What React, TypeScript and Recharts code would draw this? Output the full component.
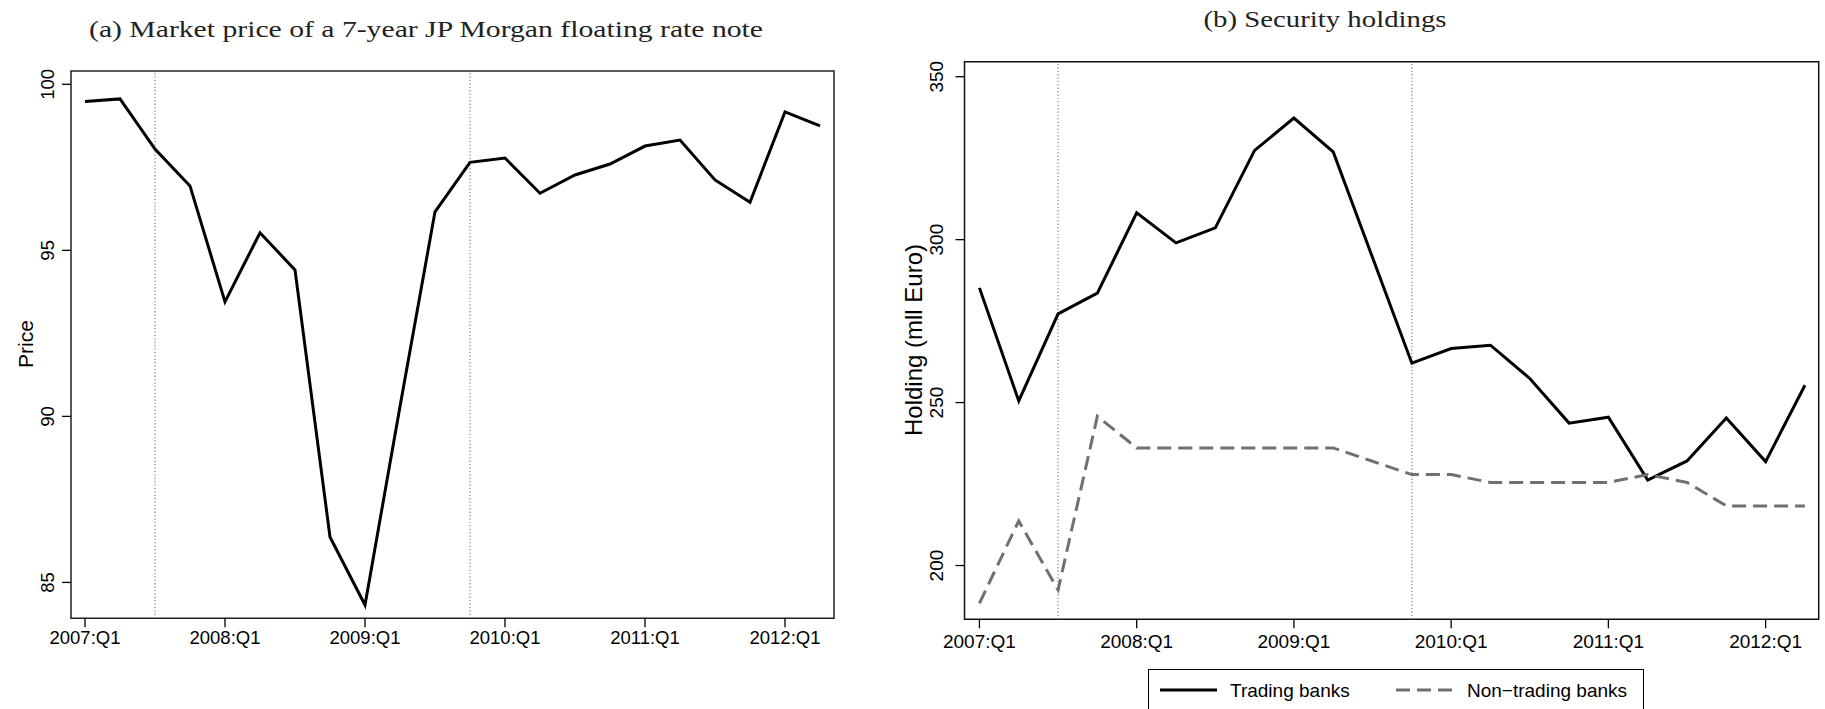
import React from 'react'
import { LineChart, Line, XAxis, YAxis, ReferenceLine, ReferenceArea, Legend } from 'recharts'

// quarterly observations, 2007:Q1 .. 2012:Q2
const quarters = [
  '2007:Q1', '2007:Q2', '2007:Q3', '2007:Q4',
  '2008:Q1', '2008:Q2', '2008:Q3', '2008:Q4',
  '2009:Q1', '2009:Q2', '2009:Q3', '2009:Q4',
  '2010:Q1', '2010:Q2', '2010:Q3', '2010:Q4',
  '2011:Q1', '2011:Q2', '2011:Q3', '2011:Q4',
  '2012:Q1', '2012:Q2',
]
const xTicks = [0, 4, 8, 12, 16, 20]
const priceTicks = [85, 90, 95, 100]
const holdingTicks = [200, 250, 300, 350]
const crisisMarks = [2, 11]

const price = [
  99.48, 99.56, 98.05, 96.94, 93.45, 95.53, 94.41, 86.37, 84.32, 90.3, 96.16,
  97.65, 97.78, 96.72, 97.27, 97.6, 98.14, 98.32, 97.12, 96.45, 99.17, 98.75,
]
const trading = [
  285.2, 250.5, 277.2, 283.6, 308.2, 299.0, 303.6, 327.4, 337.3, 326.9, 294.5,
  262.1, 266.6, 267.6, 257.4, 243.7, 245.5, 226.2, 232.1, 245.3, 231.9, 255.3,
]
const nonTrading = [
  188.4, 213.7, 192.5, 245.8, 236.1, 236.1, 236.1, 236.1, 236.1, 236.1, 232.0,
  227.9, 227.9, 225.5, 225.5, 225.5, 225.5, 227.9, 225.5, 218.3, 218.3, 218.3,
]

const SANS = '"Liberation Sans", Arial, Helvetica, sans-serif'
const SERIF = '"Liberation Serif", "Times New Roman", serif'

const priceRows = price.map((v, i) => ({ i, price: v }))
const holdingRows = trading.map((v, i) => ({ i, trading: v, nonTrading: nonTrading[i] }))

const priceX = [-0.4, 21.4]
const priceY = [83.92, 100.4]
const holdX = [-0.38, 21.35]
const holdY = [183.5, 354.6]

function makeYTick(labelX: number, size: number) {
  return (props: any) => {
    const { y, payload } = props
    return (
      <text
        x={labelX}
        y={y}
        transform={`rotate(-90, ${labelX}, ${y})`}
        textAnchor="middle"
        dominantBaseline="central"
        fontFamily={SANS}
        fontSize={size}
        fill="#000"
      >
        {payload.value}
      </text>
    )
  }
}

function makeXTick(labelY: number, size: number) {
  return (props: any) => {
    const { x, payload } = props
    return (
      <text x={x} y={labelY} textAnchor="middle" dominantBaseline="central" fontFamily={SANS} fontSize={size} fill="#000">
        {quarters[payload.value]}
      </text>
    )
  }
}

function AxisTitle({ tx, ty, text, size }: { tx: number; ty: number; text: string; size: number }) {
  return (
    <text
      x={tx}
      y={ty}
      transform={`rotate(-90, ${tx}, ${ty})`}
      textAnchor="middle"
      dominantBaseline="central"
      fontFamily={SANS}
      fontSize={size}
      fill="#000"
    >
      {text}
    </text>
  )
}

function HoldingsLegend() {
  return (
    <div
      style={{
        width: 496,
        height: 42,
        boxSizing: 'border-box',
        border: '1.5px solid #000',
        position: 'relative',
        fontFamily: SANS,
        fontSize: 19,
        background: '#fff',
      }}
    >
      <svg width={496} height={42} style={{ position: 'absolute', left: 0, top: 0 }}>
        <line x1={11} x2={68} y1={20} y2={20} stroke="#000" strokeWidth={3} />
        <line x1={247} x2={303} y1={20} y2={20} stroke="#707070" strokeWidth={3} strokeDasharray="14 7" />
        <text x={81} y={20} dominantBaseline="central" fontFamily={SANS} fontSize={19}>Trading banks</text>
        <text x={318} y={20} dominantBaseline="central" fontFamily={SANS} fontSize={19}>Non−trading banks</text>
      </svg>
    </div>
  )
}

const tickLineStyle = { stroke: '#000', strokeWidth: 1.3 }

export default function App() {
  return (
    <div style={{ position: 'absolute', left: 0, top: 0, width: 1825, height: 709, background: '#fff' }}>
      <svg width={1825} height={60} style={{ position: 'absolute', left: 0, top: 0 }}>
        <text x={426} y={29.5} textAnchor="middle" dominantBaseline="central" fontFamily={SERIF} fontSize={23}
          textLength={674} lengthAdjust="spacingAndGlyphs" fill="#222">
          (a) Market price of a 7-year JP Morgan floating rate note
        </text>
        <text x={1325} y={19} textAnchor="middle" dominantBaseline="central" fontFamily={SERIF} fontSize={23}
          textLength={243} lengthAdjust="spacingAndGlyphs" fill="#222">
          (b) Security holdings
        </text>
      </svg>

      {/* (a) price panel */}
      <div style={{ position: 'absolute', left: 0, top: 0 }}>
        <LineChart width={850} height={709} data={priceRows} margin={{ top: 71, right: 16, bottom: 50.7, left: 21 }}>
          <XAxis
            type="number"
            dataKey="i"
            domain={priceX}
            ticks={xTicks}
            interval={0}
            allowDataOverflow
            axisLine={false}
            tickLine={tickLineStyle}
            tickSize={9}
            height={40}
            tick={makeXTick(637, 18.5)}
          />
          <YAxis
            type="number"
            domain={priceY}
            ticks={priceTicks}
            interval={0}
            allowDataOverflow
            axisLine={false}
            tickLine={tickLineStyle}
            tickSize={9}
            width={50}
            tick={makeYTick(47.7, 18.5)}
            label={<AxisTitle tx={25} ty={344} text="Price" size={21} />}
          />
          <ReferenceArea x1={priceX[0]} x2={priceX[1]} y1={priceY[0]} y2={priceY[1]} fill="none" stroke="#222" strokeWidth={1.5} />
          {crisisMarks.map((q) => (
            <ReferenceLine key={q} x={q} stroke="#888" strokeWidth={1.3} strokeDasharray="1.2 2.2" />
          ))}
          <Line type="linear" dataKey="price" stroke="#000" strokeWidth={3} dot={false} isAnimationActive={false} />
        </LineChart>
      </div>

      {/* (b) holdings panel */}
      <div style={{ position: 'absolute', left: 860, top: 0 }}>
        <LineChart width={965} height={709} data={holdingRows} margin={{ top: 61.7, right: 6.3, bottom: 49.7, left: 54.5 }}>
          <XAxis
            type="number"
            dataKey="i"
            domain={holdX}
            ticks={xTicks}
            interval={0}
            allowDataOverflow
            axisLine={false}
            tickLine={tickLineStyle}
            tickSize={9}
            height={40}
            tick={makeXTick(641.7, 19)}
          />
          <YAxis
            type="number"
            domain={holdY}
            ticks={holdingTicks}
            interval={0}
            allowDataOverflow
            axisLine={false}
            tickLine={tickLineStyle}
            tickSize={9}
            width={50}
            tick={makeYTick(76.7, 19)}
            label={<AxisTitle tx={53} ty={340} text="Holding (mll Euro)" size={24} />}
          />
          <ReferenceArea x1={holdX[0]} x2={holdX[1]} y1={holdY[0]} y2={holdY[1]} fill="none" stroke="#111" strokeWidth={1.5} />
          {crisisMarks.map((q) => (
            <ReferenceLine key={q} x={q} stroke="#888" strokeWidth={1.3} strokeDasharray="1.2 2.2" />
          ))}
          <Line type="linear" dataKey="trading" name="Trading banks" stroke="#000" strokeWidth={3} dot={false} isAnimationActive={false} />
          <Line type="linear" dataKey="nonTrading" name="Non−trading banks" stroke="#707070" strokeWidth={3} strokeDasharray="14 7" dot={false} isAnimationActive={false} />
          <Legend
            layout="vertical"
            verticalAlign="middle"
            align="center"
            wrapperStyle={{ left: 287.6, top: 669.3, width: 496, height: 42 }}
            content={<HoldingsLegend />}
          />
        </LineChart>
      </div>
    </div>
  )
}
